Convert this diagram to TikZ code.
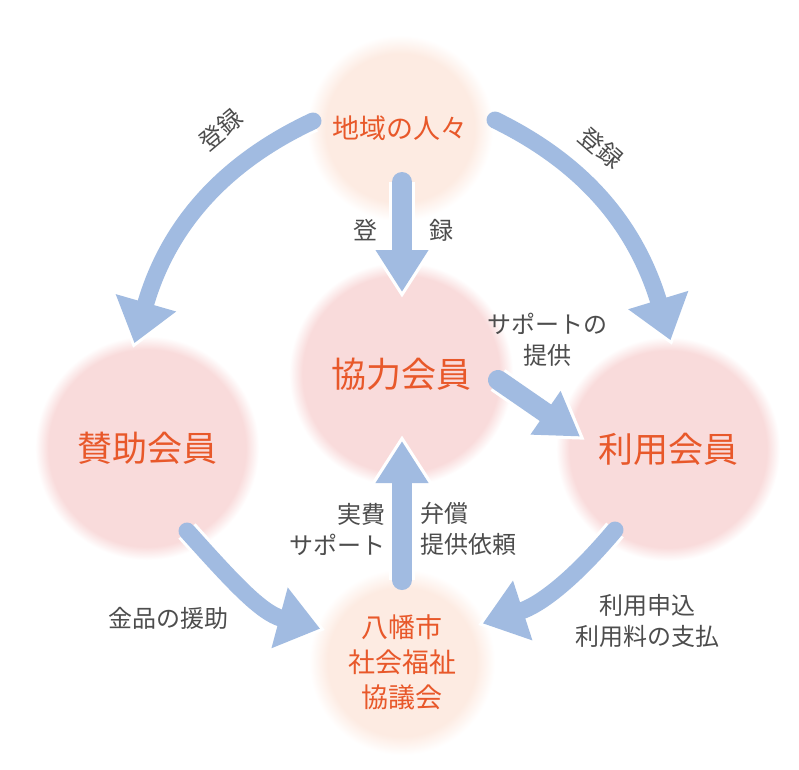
\documentclass[tikz,border=0pt]{standalone}
\usepackage{fontspec}
\setmainfont{Noto Sans CJK JP}
\usepackage{tikz}
\usetikzlibrary{arrows.meta,calc}
\definecolor{flowblue}{RGB}{161,187,225}
\definecolor{discpink}{RGB}{249,219,219}
\definecolor{discpeach}{RGB}{253,235,226}
\definecolor{headorange}{RGB}{232,88,42}
\definecolor{labelgrey}{RGB}{77,77,77}
\pgfdeclareradialshading{pinkdisc}{\pgfpoint{0bp}{0bp}}{color(0bp)=(discpink); color(22bp)=(discpink); color(25bp)=(white); color(50bp)=(white)}
\pgfdeclareradialshading{peachdisc}{\pgfpoint{0bp}{0bp}}{color(0bp)=(discpeach); color(20bp)=(discpeach); color(25bp)=(white); color(50bp)=(white)}
\tikzset{
	bigdisc/.style={circle, minimum size=224pt, shading=pinkdisc, text=headorange, font=\fontsize{35}{40}\selectfont},
	smalldisc/.style={circle, minimum size=186pt, shading=peachdisc, text=headorange, align=center, font=\fontsize{27}{35}\selectfont},
	lbl/.style={text=labelgrey, inner sep=0pt, font=\fontsize{24}{31}\selectfont},
	arcflow/.style={draw=flowblue, line width=17pt, line cap=round, shorten >=5pt, -{Triangle[width=60pt,length=42pt]},
		preaction={draw=white, line width=23pt, shorten >=0pt, -{Triangle[width=72pt,length=50pt]}}},
	barflow/.style={draw=flowblue, line width=20pt, line cap=round, shorten >=6pt, -{Triangle[width=50pt,length=42pt]},
		preaction={draw=white, line width=26pt, shorten >=0pt, -{Triangle[width=61pt,length=51pt]}}}
}
\begin{document}
\begin{tikzpicture}[x=1pt,y=-1pt]
	\fill[white] (0,0) rectangle (799,769);
	\useasboundingbox (0,0) rectangle (799,769);
	\node[smalldisc] (chiiki) at (400,128) {地域の人々};
	\node[bigdisc] (kyoryoku) at (401,374) {協力会員};
	\node[bigdisc] (sanjo) at (147,448) {賛助会員};
	\node[bigdisc] (riyo) at (668,449) {利用会員};
	\node[smalldisc] (shakyo) at (402,662) {八幡市\\社会福祉\\協議会};
	\draw[arcflow] ($(chiiki)+(-87,-7)$) to[out=205,in=74] ($(sanjo)+(-14,-100)$);
	\draw[arcflow] ($(chiiki)+(95,-8)$) to[out=-26,in=107] ($(riyo)+(4,-104)$);
	\draw[barflow] ($(chiiki)+(2,54)$) -- ($(kyoryoku)+(1,-76)$);
	\draw[barflow] ($(kyoryoku)+(97,6)$) -- ($(riyo)+(-83,-9)$);
	\draw[barflow] ($(shakyo)+(0,-82)$) -- ($(kyoryoku)+(1,61)$);
	\draw[arcflow] ($(sanjo)+(40,83)$) to[out=-48,in=165] ($(shakyo)+(-77,-32)$);
	\draw[arcflow] ($(riyo)+(-53,81)$) to[out=230,in=18] ($(shakyo)+(76,-37)$);
	\node[lbl, rotate=40] (regleft) at (221,130) {登録};
	\node[lbl, rotate=-41] (regright) at (601,148) {登録};
	\node[lbl] (regtop) at (365,230) {登};
	\node[lbl] (regtopb) at (441,230) {録};
	\node[lbl, align=center] (support) at (547,340) {サポートの\\提供};
	\node[lbl, align=right, anchor=east] (costs) at (386,529) {実費\\サポート};
	\node[lbl, align=left, anchor=west] (refund) at (420,529) {弁償\\提供依頼};
	\node[lbl] (donation) at (168,618) {金品の援助};
	\node[lbl, align=center] (usage) at (647,621) {利用申込\\利用料の支払};
\end{tikzpicture}
\end{document}
